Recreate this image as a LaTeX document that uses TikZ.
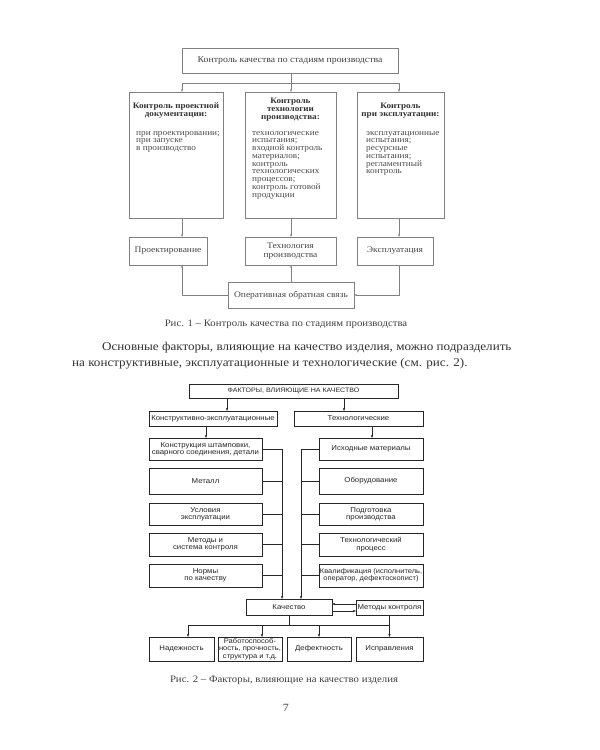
\documentclass[tikz,border=0pt]{standalone}
\usepackage{fontspec}
\setmainfont{Liberation Serif}[FakeStretch=1.1]
\newfontfamily\sansf{Liberation Sans}[FakeStretch=1.1]
\usetikzlibrary{arrows.meta,calc}
\newcommand{\toprl}{\rule{0pt}{6pt}}
\begin{document}
\begin{tikzpicture}[x=1pt,y=-1pt,
  b1/.style={draw=black!50, line width=0.6pt, inner sep=0pt, outer sep=0pt},
  d1txt/.style={font=\fontsize{8.6}{9.5}\selectfont, text=black!72, align=center},
  ttl/.style={font=\bfseries\fontsize{8.3}{7.9}\selectfont, align=center, inner sep=0pt, text=black!80},
  lst/.style={font=\fontsize{8.4}{7.75}\selectfont, align=left, inner sep=0pt, text=black!70},
  l1/.style={draw=black!50, line width=0.6pt},
  a1/.style={draw=black!50, line width=0.6pt, -{Stealth[length=3pt,width=2.2pt]}},
  b2/.style={draw=black!85, line width=0.75pt, inner sep=0pt, outer sep=0pt, align=center,
             font=\sansf\fontsize{7.1}{7.4}\selectfont, text=black!85},
  l2/.style={draw=black!85, line width=0.75pt},
  a2/.style={draw=black!85, line width=0.75pt, -{Stealth[length=3.2pt,width=2.4pt]}},
  captxt/.style={font=\fontsize{9.8}{10}\selectfont, text=black!75, anchor=base, inner sep=0pt},
  para/.style={font=\fontsize{11.9}{14}\selectfont, text=black!80, anchor=base west, inner sep=0pt}
]
\fill[white] (0,0) rectangle (600,750);
\useasboundingbox (0,0) rectangle (600,750);

% ---------------- Diagram 1 ----------------
\node[b1, minimum width=216pt, minimum height=25pt, font=\fontsize{8.9}{9}\selectfont, text=black!75] (top) at (290,60.5) {Контроль качества по стадиям производства};

\node[b1, minimum width=94pt, minimum height=126pt] (L1) at (176,155) {};
\node[b1, minimum width=91pt, minimum height=126pt] (M1) at (290.5,155) {};
\node[b1, minimum width=87pt, minimum height=126pt] (R1) at (400.5,155) {};

\node[ttl, anchor=north] (L1t) at (176,102) {\toprl Контроль проектной\\документации:};
\node[ttl, anchor=north] (M1t) at (290.5,97) {\toprl Контроль\\технологии\\производства:};
\node[ttl, anchor=north] (R1t) at (400.5,102) {\toprl Контроль\\при эксплуатации:};

\node[lst, anchor=north west] (L1l) at (136,129) {\toprl при проектировании;\\при запуске\\в производство};
\node[lst, anchor=north west] (M1l) at (252,129) {\toprl технологические\\испытания;\\входной контроль\\материалов;\\контроль\\технологических\\процессов;\\контроль готовой\\продукции};
\node[lst, anchor=north west] (R1l) at (366,129) {\toprl эксплуатационные\\испытания;\\ресурсные\\испытания;\\регламентный\\контроль};

\node[b1, d1txt, minimum width=78pt, minimum height=28pt] (L2) at (168,251) {Проектирование};
\node[b1, d1txt, minimum width=91pt, minimum height=28pt] (M2) at (290.5,251) {Технология\\производства};
\node[b1, d1txt, minimum width=76pt, minimum height=28pt] (R2) at (395,251) {Эксплуатация};
\node[b1, d1txt, minimum width=126pt, minimum height=26pt] (FB) at (291,295) {Оперативная обратная связь};

\coordinate (jM) at (291,83);
\coordinate (jL) at (182,83);
\coordinate (jR) at (399,83);
\draw[l1] (top.south -| jM) -- (jM);
\draw[l1] (jL) -- (jR);
\draw[a1] (jL) -- (jL |- L1.north);
\draw[a1] (jM) -- (jM |- M1.north);
\draw[a1] (jR) -- (jR |- R1.north);
\draw[a1] (jL |- L1.south) -- (jL |- L2.north);
\draw[a1] (jM |- M1.south) -- (jM |- M2.north);
\draw[a1] (jR |- R1.south) -- (jR |- R2.north);
\draw[a1] (FB.west) -- (FB.west -| jL) -- (jL |- L2.south);
\draw[a1] (FB.north -| jM) -- (jM |- M2.south);
\draw[a1] (jR |- R2.south) -- (jR |- FB.east) -- (FB.east);

\node[captxt] (cap1) at (286,326.5) {Рис. 1 – Контроль качества по стадиям производства};

% ---------------- Paragraph ----------------
\node[para] (p1) at (102,350) {Основные факторы, влияющие на качество изделия, можно подразделить};
\node[para] (p2) at (72,366) {на конструктивные, эксплуатационные и технологические (см. рис. 2).};

% ---------------- Diagram 2 ----------------
\node[b2, minimum width=209pt, minimum height=14pt, font=\sansf\fontsize{6.4}{7}\selectfont] (F) at (293.5,391) {ФАКТОРЫ, ВЛИЯЮЩИЕ НА КАЧЕСТВО};
\node[b2, minimum width=128pt, minimum height=15pt] (KE) at (213,418.5) {Конструктивно-эксплуатационные};
\node[b2, minimum width=129pt, minimum height=15pt] (T) at (358.5,418.5) {Технологические};

\node[b2, minimum width=113pt, minimum height=22pt] (A1) at (205.5,449) {Конструкция штамповки,\\сварного соединения, детали};
\node[b2, minimum width=113pt, minimum height=26pt] (A2) at (205.5,481) {Металл};
\node[b2, minimum width=113pt, minimum height=22pt] (A3) at (205.5,514) {Условия\\эксплуатации};
\node[b2, minimum width=113pt, minimum height=23pt] (A4) at (205.5,544.5) {Методы и\\система контроля};
\node[b2, minimum width=113pt, minimum height=23pt] (A5) at (205.5,575.5) {Нормы\\по качеству};

\node[b2, minimum width=104pt, minimum height=22pt] (C1) at (371,449) {Исходные материалы};
\node[b2, minimum width=104pt, minimum height=26pt] (C2) at (371,481) {Оборудование};
\node[b2, minimum width=104pt, minimum height=22pt] (C3) at (371,514) {Подготовка\\производства};
\node[b2, minimum width=104pt, minimum height=23pt] (C4) at (371,544.5) {Технологический\\процесс};
\node[b2, minimum width=104pt, minimum height=23pt, font=\sansf\fontsize{6.8}{7.4}\selectfont] (C5) at (371,575.5) {Квалификация (исполнитель,\\оператор, дефектоскопист)};

\node[b2, minimum width=86pt, minimum height=16pt] (Q) at (289,607) {Качество};
\node[b2, minimum width=67pt, minimum height=15pt] (MK) at (389.5,608) {Методы контроля};

\node[b2, minimum width=65pt, minimum height=24pt] (B1) at (181.5,649) {Надежность};
\node[b2, minimum width=64pt, minimum height=24pt, font=\sansf\fontsize{6.9}{7.4}\selectfont] (B2) at (250,649) {Работоспособ-\\ность, прочность,\\структура и т.д.};
\node[b2, minimum width=64pt, minimum height=24pt] (B3) at (319,649) {Дефектность};
\node[b2, minimum width=67pt, minimum height=24pt] (B4) at (389.5,649) {Исправления};

\coordinate (fa) at (227,411);
\coordinate (fb) at (344,411);
\draw[a2] (fa |- F.south) -- (fa);
\draw[a2] (fb |- F.south) -- (fb);
\coordinate (ka) at (206,438);
\coordinate (ta) at (372,438);
\draw[a2] (ka |- KE.south) -- (ka);
\draw[a2] (ta |- T.south) -- (ta);

\coordinate (busL) at (282,449);
\coordinate (busR) at (301,449);
\foreach \n in {A1,A2,A3,A4,A5} \draw[l2] (\n.east) -- (\n.east -| busL);
\foreach \n in {C1,C2,C3,C4,C5} \draw[l2] (\n.west) -- (\n.west -| busR);
\draw[a2] (busL) -- (busL |- Q.north);
\draw[a2] (busR) -- (busR |- Q.north);

\draw[a2] ([yshift=4pt]MK.west) -- ([yshift=4pt]MK.west -| Q.east);
\draw[a2] ([yshift=-3pt]MK.west -| Q.east) -- ([yshift=-3pt]MK.west);

\coordinate (hq) at (289,625);
\coordinate (h1) at (188,625);
\coordinate (h2) at (262,625);
\coordinate (h3) at (319,625);
\draw[l2] (Q.south) -- (hq);
\draw[l2] (MK.south) -- (MK.south |- hq);
\draw[l2] (h1) -- (MK.south |- hq);
\draw[a2] (h1) -- (h1 |- B1.north);
\draw[a2] (h2) -- (h2 |- B2.north);
\draw[a2] (h3) -- (h3 |- B3.north);
\draw[a2] (MK.south |- hq) -- (B4.north);

\node[captxt] (cap2) at (284,682.5) {Рис. 2 – Факторы, влияющие на качество изделия};
\node[captxt, font=\fontsize{11}{12}\selectfont] (pg) at (286,711) {7};
\end{tikzpicture}
\end{document}
